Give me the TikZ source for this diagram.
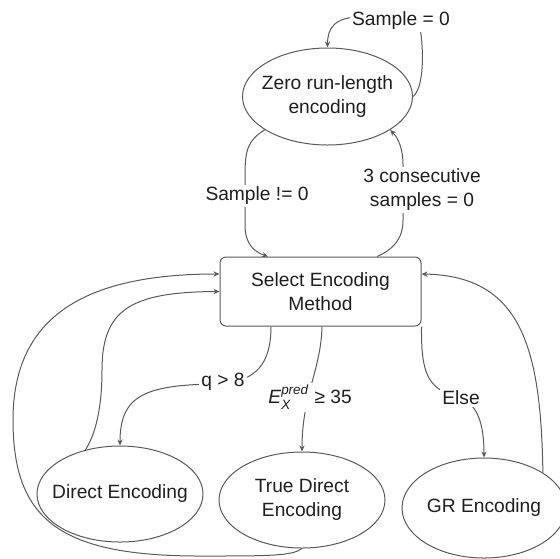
\documentclass[tikz,border=0pt]{standalone}
\usepackage{amsmath}
\usepackage{fontspec}
\setmainfont{Liberation Sans}
\usetikzlibrary{arrows.meta,shapes.geometric,calc}
\begin{document}
\begin{tikzpicture}[x=0.5pt,y=-0.5pt,
  every node/.style={font=\fontsize{9.6}{12}\selectfont, text=black!88},
  line/.style={draw=black!65, line width=0.5pt},
  arr/.style={line, -{Stealth[length=3pt,width=2.6pt]}},
  oval/.style={ellipse, draw=black!65, line width=0.5pt, inner xsep=-8pt, inner ysep=0pt, align=center},
  box/.style={draw=black!65, line width=0.5pt, rounded corners=3pt, align=center},
  lbl/.style={fill=white, inner sep=1pt, align=center}]
\useasboundingbox (0,0) rectangle (560,558);
% main nodes
\node[oval, minimum width=85pt, minimum height=48.5pt] (Z) at (327.5,96.5) {Zero run-length\\encoding};
\node[box, minimum width=100.5pt, minimum height=34.5pt] (S) at (320.5,291.5) {Select Encoding\\Method};
\node[oval, minimum width=83pt, minimum height=48pt] (D) at (120,494) {Direct Encoding};
\node[oval, minimum width=83pt, minimum height=48pt] (T) at (302,500) {True Direct\\Encoding};
\node[oval, minimum width=82pt, minimum height=50pt] (G) at (484,508) {GR Encoding};
% connectors
\draw[arr] (Z.east) .. controls (424,88) and (424,50) .. (420,28) -- (360,17) .. controls (335,17) and (327.5,28) .. (Z.north);
\draw[arr] (Z.208) .. controls (248,140) and (245,150) .. (245,175) -- (245,225) .. controls (245,245) and (255,252) .. ($(S.north)+(-52.5,0)$);
\draw[arr] ($(S.north)+(56.5,0)$) .. controls (392,250) and (403,240) .. (403,220) -- (403,165) .. controls (403,148) and (398,138) .. (Z.-28);
\draw[arr] ($(S.south)+(-49.5,0)$) .. controls (271,365) and (255,380) .. (223,384) .. controls (145,384) and (120,395) .. (D.north);
\draw[arr] ($(S.south)+(1.5,0)$) .. controls (321,370) and (302,395) .. (T.north);
\draw[arr] (S.south east) .. controls (421,375) and (428,390) .. (461,398) .. controls (478,405) and (484,425) .. (G.north);
\draw[arr] (D.128) .. controls (98,430) and (102,400) .. (102,370) .. controls (102,310) and (130,292) .. (S.west);
\draw[arr] (T.south) .. controls (292,556) and (270,556) .. (200,556) .. controls (60,556) and (13,520) .. (13,420) .. controls (13,320) and (80,274) .. ($(S.west)+(0,-17.5)$);
\draw[arr] (G.31) .. controls (541,345) and (520,276) .. ($(S.east)+(0,-17.5)$);
% labels
\node[lbl] (l0) at (401,21) {Sample = 0};
\node[lbl] (l1) at (257,196) {Sample != 0};
\node[lbl] (l2) at (422,190) {3 consecutive\\samples = 0};
\node[lbl] (l3) at (223,382) {q > 8};
\node[lbl] (l4) at (310,397) {\textit{E}$^{\textit{pred}}_{\textit{X}}$ ≥ 35};
\node[lbl] (l5) at (461,398) {Else};
\end{tikzpicture}
\end{document}
